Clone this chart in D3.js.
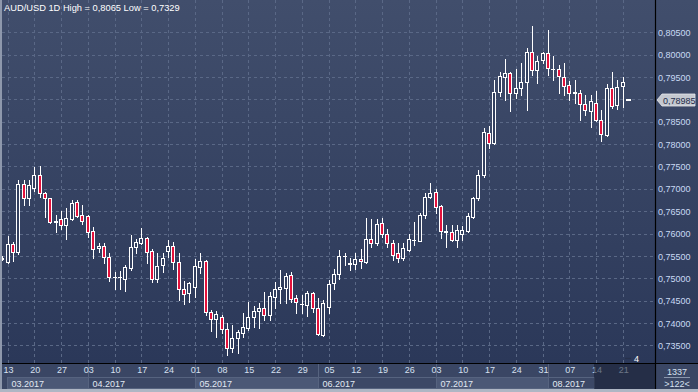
<!DOCTYPE html>
<html><head><meta charset="utf-8">
<script src="https://cdn.jsdelivr.net/npm/d3@7/dist/d3.min.js"></script>
<style>html,body{margin:0;padding:0;background:#2e3a58;}svg{display:block;}</style>
</head><body>
<svg id="c" width="698" height="392"></svg>
<script>
// ---- data (AUD/USD daily, 10 Mar 2017 .. 22 Aug 2017) ----
const openP = [0.7546,0.7537,0.7576,0.7559,0.7711,0.7679,0.7701,0.7731,0.7690,0.7679,
0.7625,0.7632,0.7618,0.7632,0.7670,0.7641,0.7639,0.7606,0.7567,0.7572,
0.7547,0.7502,0.7502,0.7498,0.7522,0.7570,0.7579,0.7589,0.7562,0.7498,
0.7530,0.7562,0.7572,0.7536,0.7475,0.7466,0.7481,0.7526,0.7538,0.7424,
0.7408,0.7414,0.7386,0.7343,0.7366,0.7378,0.7389,0.7414,0.7427,0.7433,
0.7418,0.7457,0.7477,0.7479,0.7507,0.7455,0.7442,0.7440,0.7466,0.7434,
0.7373,0.7436,0.7489,0.7509,0.7549,0.7535,0.7531,0.7542,0.7537,0.7587,
0.7578,0.7623,0.7600,0.7579,0.7556,0.7545,0.7563,0.7585,0.7584,0.7641,
0.7682,0.7692,0.7662,0.7604,0.7604,0.7585,0.7598,0.7606,0.7638,0.7679,
0.7730,0.7824,0.7802,0.7917,0.7951,0.7958,0.7915,0.7925,0.7938,0.8007,
0.7966,0.7987,0.8003,0.7968,0.7968,0.7951,0.7932,0.7915,0.7914,0.7889,
0.7874,0.7891,0.7854,0.7820,0.7925,0.7887,0.7930,0.78985];
const highP = [0.7549,0.7594,0.7582,0.7720,0.7720,0.7720,0.7749,0.7751,0.7692,0.7680,
0.7641,0.7650,0.7656,0.7675,0.7675,0.7664,0.7641,0.7615,0.7578,0.7578,
0.7556,0.7515,0.7517,0.7530,0.7597,0.7587,0.7612,0.7593,0.7565,0.7556,
0.7556,0.7585,0.7582,0.7556,0.7494,0.7492,0.7543,0.7556,0.7541,0.7430,
0.7427,0.7418,0.7399,0.7395,0.7384,0.7422,0.7447,0.7438,0.7444,0.7470,
0.7470,0.7492,0.7518,0.7511,0.7515,0.7462,0.7462,0.7471,0.7470,0.7455,
0.7451,0.7496,0.7520,0.7563,0.7557,0.7545,0.7557,0.7565,0.7635,0.7632,
0.7632,0.7634,0.7609,0.7585,0.7578,0.7578,0.7600,0.7626,0.7645,0.7690,
0.7712,0.7699,0.7664,0.7619,0.7619,0.7619,0.7617,0.7645,0.7682,0.7742,
0.7835,0.7840,0.7943,0.7962,0.7990,0.7962,0.7967,0.7981,0.8014,0.8065,
0.7997,0.8007,0.8055,0.7996,0.7977,0.7981,0.7940,0.7943,0.7921,0.7910,
0.7910,0.7919,0.7876,0.7934,0.7962,0.7943,0.7951,0.7899];
const lowP = [0.7541,0.7533,0.7539,0.7554,0.7664,0.7664,0.7696,0.7682,0.7638,0.7623,
0.7604,0.7609,0.7588,0.7630,0.7638,0.7621,0.7592,0.7546,0.7558,0.7533,
0.7494,0.7475,0.7475,0.7472,0.7518,0.7557,0.7577,0.7533,0.7492,0.7492,
0.7515,0.7547,0.7520,0.7451,0.7442,0.7447,0.7459,0.7511,0.7418,0.7382,
0.7368,0.7377,0.7329,0.7336,0.7333,0.7369,0.7384,0.7392,0.7388,0.7407,
0.7407,0.7433,0.7444,0.7444,0.7447,0.7422,0.7422,0.7415,0.7425,0.7373,
0.7371,0.7423,0.7477,0.7498,0.7530,0.7518,0.7520,0.7522,0.7535,0.7569,
0.7574,0.7593,0.7570,0.7541,0.7537,0.7541,0.7561,0.7574,0.7583,0.7634,
0.7679,0.7645,0.7589,0.7570,0.7584,0.7570,0.7585,0.7604,0.7634,0.7675,
0.7726,0.7791,0.7800,0.7908,0.7899,0.7875,0.7902,0.7910,0.7876,0.7955,
0.7936,0.7981,0.7955,0.7943,0.7914,0.7910,0.7899,0.7891,0.7854,0.7865,
0.7839,0.7852,0.7808,0.7817,0.7880,0.7878,0.7882,0.7898];
const closeP = [0.7543,0.7576,0.7559,0.7711,0.7679,0.7709,0.7731,0.7690,0.7679,0.7626,
0.7627,0.7618,0.7634,0.7668,0.7640,0.7629,0.7604,0.7565,0.7572,0.7547,
0.7503,0.7503,0.7503,0.7524,0.7569,0.7581,0.7589,0.7559,0.7498,0.7527,
0.7545,0.7572,0.7536,0.7475,0.7465,0.7489,0.7527,0.7538,0.7424,0.7408,
0.7419,0.7386,0.7343,0.7366,0.7379,0.7390,0.7414,0.7427,0.7433,0.7418,
0.7460,0.7477,0.7481,0.7505,0.7454,0.7447,0.7442,0.7466,0.7433,0.7375,
0.7444,0.7487,0.7509,0.7549,0.7549,0.7531,0.7542,0.7538,0.7587,0.7578,
0.7621,0.7598,0.7579,0.7553,0.7545,0.7568,0.7587,0.7585,0.7641,0.7682,
0.7690,0.7660,0.7606,0.7605,0.7585,0.7608,0.7608,0.7639,0.7679,0.7731,
0.7828,0.7802,0.7917,0.7952,0.7958,0.7915,0.7925,0.7939,0.8007,0.7966,
0.7986,0.8004,0.7970,0.7969,0.7952,0.7930,0.7914,0.7916,0.7890,0.7876,
0.7896,0.7854,0.7823,0.7925,0.7885,0.7927,0.7938,0.78985];
const yTicks = [0.735,0.740,0.745,0.750,0.755,0.760,0.765,0.770,0.775,0.780,0.785,0.790,0.795,0.800,0.805];
const dayLabels = ["13","20","27","03","10","17","24","01","08","15","22","29","05","12","19","26","03","10","17","24","31","07","14","21"];
const dayIndex = [1,6,11,16,21,26,31,36,41,46,51,56,61,66,71,76,81,86,91,96,101,106,111,116];
const monthLabels = ["03.2017","04.2017","05.2017","06.2017","07.2017","08.2017"];
const monthStart = [1,16,36,59,81,102];
const lastPrice = 0.78985;
const titleText = "AUD/USD 1D High = 0,8065 Low = 0,7329";

// ---- layout ----
const W = 698, H = 392, plotR = 655, plotB = 363;
const N = openP.length;
const x = d3.scaleLinear().domain([0, N-1]).range([2.2, 2.2 + (N-1)*5.35]);
const y = d3.scaleLinear().domain([0.735, 0.805]).range([345.3, 32.3]);
const fmt = v => v.toFixed(5).replace(".", ",");
const FONT = "Liberation Sans, Arial, sans-serif";

const svg = d3.select("#c");
const defs = svg.append("defs");
const g1 = defs.append("linearGradient").attr("id","bg").attr("x1",0).attr("y1",0).attr("x2",0).attr("y2",1);
g1.append("stop").attr("offset","0%").attr("stop-color","#414e6c");
g1.append("stop").attr("offset","100%").attr("stop-color","#2b3859");
defs.append("clipPath").attr("id","pc").append("rect").attr("x",2).attr("y",0).attr("width",plotR-2).attr("height",plotB);

svg.append("rect").attr("width",W).attr("height",plotB).attr("fill","url(#bg)");
svg.append("rect").attr("x",0).attr("y",plotB).attr("width",W).attr("height",H-plotB).attr("fill","#3a4664");

// grid
const grid = svg.append("g").attr("stroke","#5a6886").attr("stroke-dasharray","3,3").attr("shape-rendering","crispEdges");
grid.selectAll("line.h").data(yTicks).join("line").attr("class","h")
  .attr("x1",2).attr("x2",plotR).attr("y1",d=>Math.round(y(d))+0.5).attr("y2",d=>Math.round(y(d))+0.5);
grid.selectAll("line.v").data(dayIndex).join("line").attr("class","v")
  .attr("x1",d=>Math.round(x(d))+0.5).attr("x2",d=>Math.round(x(d))+0.5).attr("y1",0).attr("y2",plotB);

// candles
const data = d3.range(N).map(i => ({i, o:openP[i], h:highP[i], l:lowP[i], c:closeP[i]}));
const cg = svg.append("g").attr("clip-path","url(#pc)").attr("shape-rendering","crispEdges");
const cx = d => Math.round(x(d.i)) + 0.5;
const body = data.slice(0, N-1);
cg.selectAll("line.w").data(body).join("line").attr("class","w")
  .attr("x1",cx).attr("x2",cx)
  .attr("y1",d=>Math.round(y(d.h))).attr("y2",d=>Math.round(y(d.l))+1)
  .attr("stroke","#ffffff").attr("stroke-width",1);
cg.selectAll("rect.b").data(body).join("rect").attr("class","b")
  .attr("x",d=>cx(d)-2).attr("width",3)
  .attr("y",d=>Math.round(y(Math.max(d.o,d.c)))+0.5)
  .attr("height",d=>Math.max(0.01, Math.round(y(Math.min(d.o,d.c))) - Math.round(y(Math.max(d.o,d.c)))))
  .attr("fill",d=> d.c < d.o ? "#e3123c" : "#33405f")
  .attr("stroke","#ffffff").attr("stroke-width",1);
// current bar: flat white dash
const last = data[N-1];
cg.append("rect").attr("x",cx(last)-2.5).attr("y",Math.round(y(last.c))-1).attr("width",5).attr("height",2).attr("fill","#ffffff");

// title
svg.append("text").attr("x",4).attr("y",11).attr("fill","#ffffff")
  .attr("font-family",FONT).attr("font-size","9.3px").text(titleText);

// separators
svg.append("line").attr("x1",plotR+0.5).attr("x2",plotR+0.5).attr("y1",0).attr("y2",389).attr("stroke","#000").attr("stroke-width",1.2);
svg.append("line").attr("x1",0).attr("x2",W).attr("y1",plotB+0.5).attr("y2",plotB+0.5).attr("stroke","#000").attr("stroke-width",1.2);

// y axis labels
const yAxis = d3.axisRight(y).tickValues(yTicks.filter(v => Math.abs(v - 0.790) > 1e-9)).tickFormat(fmt).tickSize(0).tickPadding(0);
const ya = svg.append("g").attr("transform",`translate(${plotR+3},0)`).call(yAxis);
ya.select(".domain").remove();
ya.selectAll("text").attr("fill","#c9daf4").attr("font-family",FONT).attr("font-size","9px").attr("dy","0.35em");

// current price label
const py = Math.round(y(lastPrice));
svg.append("path").attr("d",`M${plotR+2},${py} L${plotR+7},${py-6} L${W-3},${py-6} L${W-3},${py+6} L${plotR+7},${py+6} Z`)
  .attr("fill","#c4c8d0").attr("stroke","#e8e8ec").attr("stroke-width",0.8);
svg.append("text").attr("x",plotR+8).attr("y",py+3.5).attr("fill","#1d2b4a")
  .attr("font-family",FONT).attr("font-size","9px").text(fmt(lastPrice));

// month boxes
const ends = monthStart.slice(1).map(i => x(i)).concat([594]);
const mg = svg.append("g").attr("shape-rendering","crispEdges");
monthLabels.forEach((m, k) => {
  const x0 = Math.round(k===0 ? 7 : x(monthStart[k])) + 0.5, x1 = Math.round(ends[k]) + 0.5;
  mg.append("rect").attr("x",x0).attr("y",377.5).attr("width",x1-x0).attr("height",11)
    .attr("fill", k % 2 === 0 ? "#4b5876" : "#3c4866").attr("stroke","#56637f");
  if (k>0) mg.append("line").attr("x1",x0).attr("x2",x0).attr("y1",364).attr("y2",389).attr("stroke","#56637f");
  svg.append("text").attr("x",x0+4).attr("y",387).attr("fill","#e2e8f2")
    .attr("font-family",FONT).attr("font-size","9px").text(m);
});

// day labels
const xAxis = d3.axisBottom(x).tickValues(dayIndex).tickFormat((d,k)=>dayLabels[k]).tickSize(0).tickPadding(0);
const xa = svg.append("g").attr("transform",`translate(0.5,${plotB+3})`).call(xAxis);
xa.select(".domain").remove();
xa.selectAll("text").attr("fill","#d6e0f0").attr("font-family",FONT).attr("font-size","9px").attr("dy","0.75em");

// dark overlay for the current period
svg.append("rect").attr("x",594).attr("y",plotB+1).attr("width",plotR-594).attr("height",389-plotB-1).attr("fill","#141c30").attr("opacity",0.55);

// "4" marker
svg.append("line").attr("x1",625).attr("x2",631).attr("y1",358.5).attr("y2",358.5).attr("stroke","#27314c").attr("stroke-width",1.5);
svg.append("text").attr("x",636.5).attr("y",362).attr("text-anchor","middle").attr("fill","#ffffff")
  .attr("font-family",FONT).attr("font-size","9px").text("4");

// bottom-right cell
svg.append("text").attr("x",677).attr("y",374.5).attr("text-anchor","middle").attr("fill","#d6e0f0")
  .attr("font-family",FONT).attr("font-size","9px").text("1337");
svg.append("line").attr("x1",664).attr("x2",690).attr("y1",377.5).attr("y2",377.5).attr("stroke","#8a96ac");
svg.append("text").attr("x",677).attr("y",387).attr("text-anchor","middle").attr("fill","#d6e0f0")
  .attr("font-family",FONT).attr("font-size","9px").text(">122<");

// frame
svg.append("rect").attr("x",0).attr("y",389).attr("width",W).attr("height",3).attr("fill","#aeb6c4");
svg.append("rect").attr("x",0).attr("y",0).attr("width",2).attr("height",389).attr("fill","#8e98ac");
</script>
</body></html>
